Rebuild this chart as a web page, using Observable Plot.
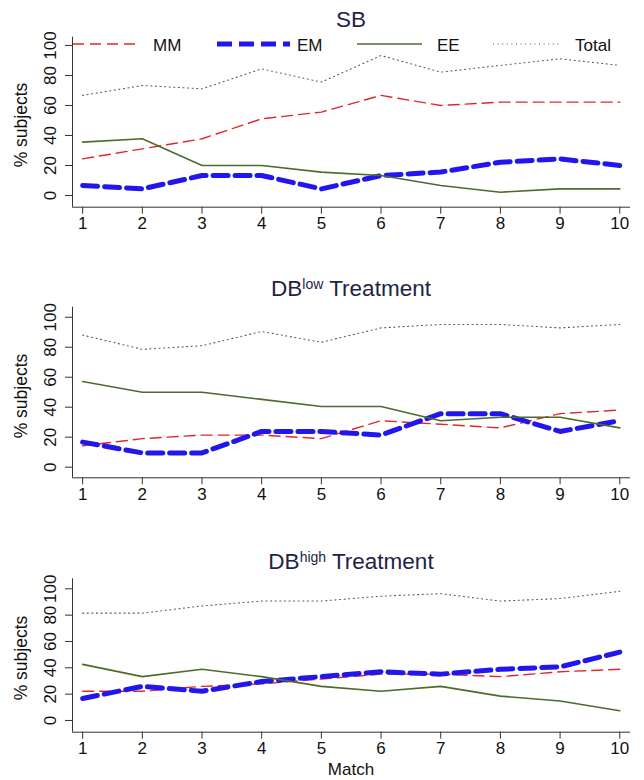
<!DOCTYPE html>
<html><head><meta charset="utf-8">
<script src="https://cdn.jsdelivr.net/npm/d3@7"></script>
<script src="https://cdn.jsdelivr.net/npm/@observablehq/plot@0.6"></script>
<style>
body{margin:0;background:#fff;}
#c{position:relative;width:644px;height:780px;overflow:hidden;font-family:"Liberation Sans",Arial,sans-serif;}
#c svg{position:absolute;left:0;}
</style></head>
<body><div id="c"></div>
<script>
// ---- data ----
const matches = [1,2,3,4,5,6,7,8,9,10];
const seriesNames = ["MM","EM","EE","Total"];
const yTicks = [0,20,40,60,80,100];

const sbMM    = [24.4,31.1,37.8,51.1,55.6,66.7,60.0,62.2,62.2,62.2];
const sbEM    = [6.7,4.4,13.3,13.3,4.4,13.3,15.6,22.2,24.4,20.0];
const sbEE    = [35.6,37.8,20.0,20.0,15.6,13.3,6.7,2.2,4.4,4.4];
const sbTotal = [66.7,73.3,71.1,84.4,75.6,93.3,82.2,86.7,91.1,86.7];

const lowMM    = [14.3,19.0,21.4,21.4,19.0,31.0,28.6,26.2,35.7,38.1];
const lowEM    = [16.7,9.5,9.5,23.8,23.8,21.4,35.7,35.7,23.8,31.0];
const lowEE    = [57.1,50.0,50.0,45.2,40.5,40.5,31.0,33.3,33.3,26.2];
const lowTotal = [88.1,78.6,81.0,90.5,83.3,92.9,95.2,95.2,92.9,95.2];

const highMM    = [22.2,22.2,25.9,27.8,31.5,35.2,35.2,33.3,37.0,38.9];
const highEM    = [16.7,25.9,22.2,29.6,33.3,37.0,35.2,38.9,40.7,51.9];
const highEE    = [42.6,33.3,38.9,33.3,25.9,22.2,25.9,18.5,14.8,7.4];
const highTotal = [81.5,81.5,87.0,90.7,90.7,94.4,96.3,90.7,92.6,98.1];

// ---- styles / layout ----
const FONT = '"Liberation Sans", Arial, Helvetica, sans-serif';
const styles = {
  MM:    {stroke:"#e2272c", strokeWidth:1.4, strokeDasharray:"11,6"},
  EM:    {stroke:"#2216ef", strokeWidth:5,   strokeDasharray:"15,7"},
  EE:    {stroke:"#4e6b2c", strokeWidth:1.6},
  Total: {stroke:"#555",    strokeWidth:1.1, strokeDasharray:"1,3.6"}
};
const xDomain = [0.83, 10.18];
const panels = [
  {title:["SB","",""], top:0,   height:240, mt:36.7, mb:33.3, yd:[-7.8,105.5], values:[sbMM,sbEM,sbEE,sbTotal], titleY:26.7, ylabY:125, tickFont:17},
  {title:["DB","low"," Treatment"], top:260, height:250, mt:46.7, mb:32.7, yd:[-7.1,106.7], values:[lowMM,lowEM,lowEE,lowTotal], titleY:295.7, ylabY:396, tickFont:17},
  {title:["DB","high"," Treatment"], top:520, height:260, mt:58.3, mb:48.3, yd:[-8.9,107.6], values:[highMM,highEM,highEE,highTotal], titleY:569, ylabY:658, tickFont:17}
];

const root = document.getElementById("c");

panels.forEach(p => {
  const data = [];
  seriesNames.forEach((s,i) => p.values[i].forEach((v,j) => data.push({match:matches[j], series:s, value:v})));
  const chart = Plot.plot({
    width:644, height:p.height,
    marginTop:p.mt, marginBottom:p.mb, marginLeft:72, marginRight:14,
    style:{background:"transparent", fontFamily:FONT, fontSize:p.tickFont + "px", color:"#111", overflow:"visible"},
    x:{domain:xDomain},
    y:{domain:p.yd},
    marks:[
      Plot.ruleX([xDomain[0]], {y1:p.yd[0], y2:p.yd[1], stroke:"#333", strokeWidth:1}),
      Plot.ruleY([p.yd[0]], {x1:xDomain[0], x2:xDomain[1], stroke:"#333", strokeWidth:1}),
      Plot.axisX({ticks:matches, tickSize:7, tickPadding:3, label:null, stroke:"#333", fill:"#111"}),
      Plot.axisY({ticks:yTicks, tickSize:7, tickRotate:-90, tickPadding:10, label:null, stroke:"#333", fill:"#111"}),
      ...seriesNames.map(s => Plot.line(data.filter(d => d.series === s), {x:"match", y:"value", ...styles[s]}))
    ]
  });
  chart.style.top = p.top + "px";
  root.appendChild(chart);
});

// ---- overlay: titles, axis labels, legend ----
const ov = d3.select(root).append("svg")
  .attr("width",644).attr("height",780)
  .style("top","0px").style("font-family",FONT);

panels.forEach(p => {
  const t = ov.append("text").attr("x",351).attr("y",p.titleY)
    .attr("text-anchor","middle").attr("fill","#1e2347").attr("font-size",22.5);
  t.append("tspan").text(p.title[0]);
  if (p.title[1]) {
    t.append("tspan").attr("font-size",14).attr("dy",-7).text(p.title[1]);
    t.append("tspan").attr("dy",7).text(p.title[2]);
  }
  ov.append("text").attr("transform",`translate(21,${p.ylabY}) rotate(-90)`)
    .attr("text-anchor","middle").attr("dy","0.35em").attr("fill","#111").attr("font-size",17.5)
    .text("% subjects");
});

ov.append("text").attr("x",351).attr("y",775).attr("text-anchor","middle")
  .attr("fill","#111").attr("font-size",17).text("Match");

const legendItems = [
  {s:"MM", x1:73, x2:138, tx:153},
  {s:"EM", x1:217, x2:290, tx:297},
  {s:"EE", x1:357, x2:422, tx:437},
  {s:"Total", x1:493, x2:560, tx:575}
];
legendItems.forEach(it => {
  const st = styles[it.s];
  ov.append("line").attr("x1",it.x1).attr("x2",it.x2).attr("y1",44).attr("y2",44)
    .attr("stroke",st.stroke).attr("stroke-width",st.strokeWidth)
    .attr("stroke-dasharray",st.strokeDasharray || null);
  ov.append("text").attr("x",it.tx).attr("y",45).attr("dy","0.35em")
    .attr("fill","#111").attr("font-size",17).text(it.s);
});
</script>
</body></html>
